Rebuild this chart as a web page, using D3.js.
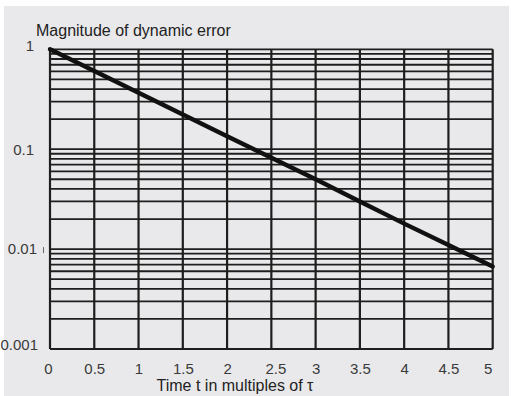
<!DOCTYPE html>
<html><head><meta charset="utf-8">
<script src="https://cdn.jsdelivr.net/npm/d3@7"></script>
<style>
html,body{margin:0;padding:0;background:#fff;}
svg{display:block;font-family:"Liberation Sans",Arial,sans-serif;}
</style></head>
<body>
<svg id="chart" width="511" height="396"></svg>
<script>
// Data
const timeT = [0, 0.5, 1, 1.5, 2, 2.5, 3, 3.5, 4, 4.5, 5];
const dynamicError = [1, 0.607, 0.368, 0.223, 0.135, 0.082, 0.050, 0.030, 0.018, 0.011, 0.0067];
const xTicks = [0, 0.5, 1, 1.5, 2, 2.5, 3, 3.5, 4, 4.5, 5];
const xTickLabels = ["0", "0.5", "1", "1.5", "2", "2.5", "3", "3.5", "4", "4.5", "5"];
const yTicks = [1, 0.1, 0.01, 0.001];
const yTickLabels = ["1", "0.1", "0.01", "0.001"];
const yTitle = "Magnitude of dynamic error";
const xTitle = "Time t in multiples of τ";

const svg = d3.select("#chart");
svg.append("rect").attr("x",4).attr("y",6).attr("width",505).attr("height",390).attr("fill","#e9e9eb");

const x = d3.scaleLinear().domain([0,5]).range([50, 492.7]);
const y = d3.scaleLog().domain([0.001, 1]).range([349, 49.3]);

// minor log grid values
const yGrid = [];
[0.001, 0.01, 0.1].forEach(d => { for (let k = 1; k <= 9; k++) yGrid.push(+(d*k).toPrecision(3)); });
yGrid.push(1);

const grid = svg.append("g").attr("stroke","#1e1e1e").attr("fill","none");
grid.selectAll("line.h").data(yGrid).join("line").attr("class","h")
  .attr("x1", x(0)).attr("x2", x(5))
  .attr("y1", d => y(d)).attr("y2", d => y(d))
  .attr("stroke-width", 1.8);
grid.selectAll("line.v").data(xTicks).join("line").attr("class","v")
  .attr("x1", d => x(d)).attr("x2", d => x(d))
  .attr("y1", y(1)).attr("y2", y(0.001))
  .attr("stroke-width", 2.2);

// axes labels via d3 axes (no domain/ticks drawn)
const xAxis = d3.axisBottom(x).tickValues(xTicks).tickFormat((d,i) => xTickLabels[i]).tickSize(0).tickPadding(14);
const gx = svg.append("g").attr("transform", `translate(0,${y(0.001)})`).call(xAxis);
gx.select(".domain").remove();
gx.selectAll("text").attr("font-size", 15).attr("fill", "#3a3a3a").attr("font-family","Liberation Sans, Arial, sans-serif");
gx.selectAll(".tick").filter(d => d === 0).select("text").attr("dx", -2);
gx.selectAll(".tick").filter(d => d === 2.5).select("text").attr("dx", 4);
gx.selectAll(".tick").filter(d => d === 5).select("text").attr("dx", -5);

const yAxis = d3.axisLeft(y).tickValues(yTicks).tickFormat((d,i) => yTickLabels[i]).tickSize(0).tickPadding(16);
const gy = svg.append("g").attr("transform", `translate(${x(0)},0)`).call(yAxis);
gy.select(".domain").remove();
gy.selectAll("text").attr("font-size", 15).attr("fill", "#3a3a3a").attr("font-family","Liberation Sans, Arial, sans-serif");
gy.selectAll(".tick").filter(d => d === 1).select("text").attr("dy", "0.1em");
gy.selectAll(".tick").filter(d => d === 0.01).select("text").attr("dx", 3);
gy.selectAll(".tick").filter(d => d === 0.001).select("text").attr("dy", "0.05em").attr("dx", 4);
// small tick mark next to 0.01
svg.append("line").attr("x1", 43.5).attr("x2", 43.5).attr("y1", y(0.01)-2).attr("y2", y(0.01)+4).attr("stroke","#666").attr("stroke-width",1);

// curve
const line = d3.line().x((d,i) => x(timeT[i])).y(d => y(d));
svg.append("path").datum(dynamicError).attr("d", line)
  .attr("fill","none").attr("stroke","#111").attr("stroke-width",4.4).attr("stroke-linecap","round");

// titles
svg.append("text").attr("x", 36).attr("y", 36).attr("font-size", 16).attr("fill","#222").text(yTitle);
svg.append("text").attr("x", 235).attr("y", 391).attr("text-anchor","middle").attr("font-size", 16).attr("fill","#222").text(xTitle);
</script>
</body></html>
